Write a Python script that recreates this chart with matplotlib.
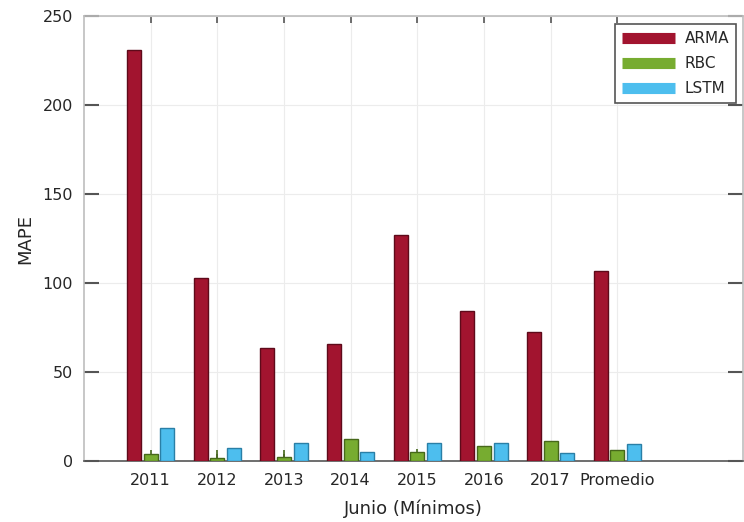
import matplotlib
matplotlib.use("Agg")
import matplotlib.pyplot as plt
from matplotlib.lines import Line2D
import numpy as np

# ============================================================
# Data
# ============================================================
categories = ["2011", "2012", "2013", "2014", "2015", "2016", "2017", "Promedio"]
arma = [231, 103, 63.5, 66, 127, 84, 72.5, 107]
rbc = [3.8, 1.9, 2.4, 12.2, 4.9, 8.4, 11.2, 6.2]
rbc_err = [2.2, 4.1, 3.6, 0, 1.7, 0, 0, 0]
lstm = [18.7, 7.5, 9.9, 4.9, 9.9, 9.9, 4.3, 9.4]

series = [("ARMA", arma, "#A2142F", "#5e0a1a"),
          ("RBC", rbc, "#77AC30", "#46681a"),
          ("LSTM", lstm, "#4DBEEE", "#2a7fa6")]

# ============================================================
# Plot
# ============================================================
plt.rcParams["font.family"] = "DejaVu Sans"
txt = "#262626"

fig = plt.figure(figsize=(7.44, 5.22), dpi=100)
ax = fig.add_axes([0.113, 0.117, 0.885, 0.852])

x = np.arange(1, len(categories) + 1)
width = 0.21
offsets = [-0.25, 0.0, 0.25]

for (name, vals, fc, ec), off in zip(series, offsets):
    ax.bar(x + off, vals, width, color=fc, edgecolor=ec, linewidth=1.0, zorder=3)

# error bars on RBC (upper side only)
ax.errorbar(x, rbc, yerr=[np.zeros(len(rbc)), rbc_err], fmt="none",
            ecolor="#46681a", elinewidth=1.2, capsize=0, zorder=4)

ax.set_xlim(0, 9.88)
ax.set_ylim(0, 250)
ax.set_xticks(x)
ax.set_xticklabels(categories)
ax.set_yticks([0, 50, 100, 150, 200, 250])

ax.grid(True, color="#ececec", linewidth=0.8, zorder=0)
ax.set_axisbelow(True)

for side in ["left", "top", "right"]:
    ax.spines[side].set_color("#bdbdbd")
    ax.spines[side].set_linewidth(1.2)
ax.spines["bottom"].set_color("#555555")
ax.spines["bottom"].set_linewidth(1.2)

ax.tick_params(axis="y", direction="in", length=11, width=1.5, color="#555555",
               labelsize=11.5, labelcolor=txt, right=True, pad=8)
ax.tick_params(axis="x", direction="in", length=5, width=1.2, color="#555555",
               labelsize=11.5, labelcolor=txt, top=True, pad=9)

ax.set_xlabel("Junio (Mínimos)", fontsize=13, color=txt, labelpad=8)
ax.set_ylabel("MAPE", fontsize=13, color=txt, labelpad=6)

handles = [Line2D([0], [0], color=fc, lw=8, solid_capstyle="butt") for _, _, fc, _ in series]
leg = ax.legend(handles, [s[0] for s in series], loc="upper right",
                bbox_to_anchor=(0.99, 0.982), borderaxespad=0, fontsize=11,
                handlelength=3.5, handletextpad=0.6, labelspacing=0.65,
                fancybox=False, borderpad=0.45, framealpha=1)
leg.get_frame().set_edgecolor("#555555")
leg.get_frame().set_linewidth(1.2)
for t in leg.get_texts():
    t.set_color(txt)

plt.savefig("out.png", dpi=100)
